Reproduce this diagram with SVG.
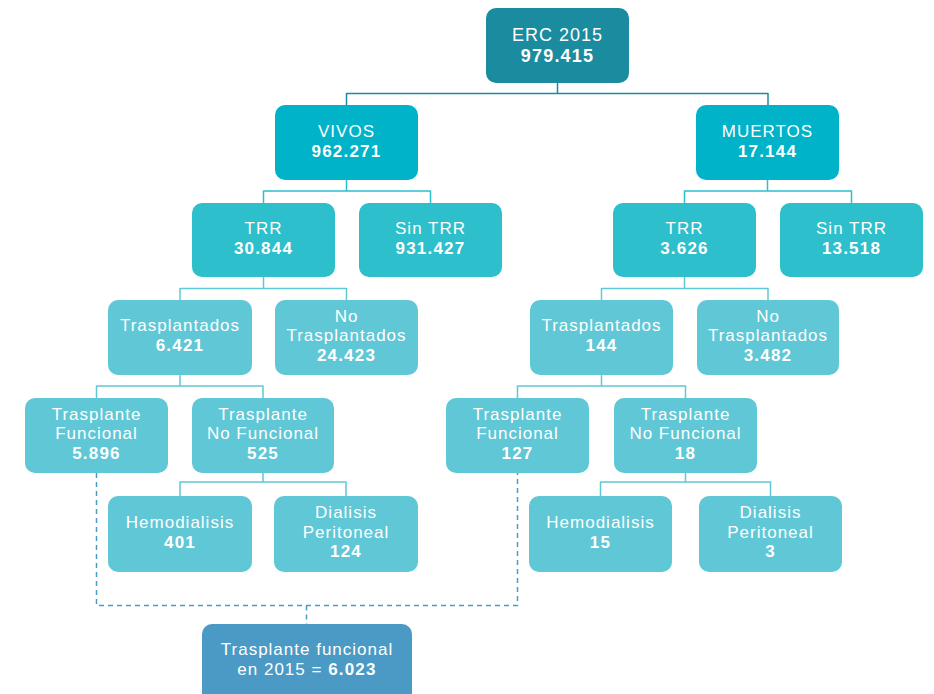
<svg xmlns="http://www.w3.org/2000/svg" width="934" height="694" viewBox="0 0 934 694">
<style>
text{font-family:"Liberation Sans",Arial,sans-serif;font-size:17px;fill:#ffffff;text-anchor:middle;letter-spacing:1px}
.b{font-weight:bold;letter-spacing:1.2px}
.t{font-size:18px}
.l0{fill:#1b8b9f}
.l1{fill:#00b3c8}
.l2{fill:#2dbfcb}
.l3{fill:#5fc7d5}
.l4{fill:#4a9ac5}
.c0{stroke:#1b8b9f;stroke-width:1.5;fill:none}
.c1{stroke:#2dbfcb;stroke-width:1.5;fill:none}
.c2{stroke:#5fc7d5;stroke-width:1.5;fill:none}
.d{stroke:#4a9ac5;stroke-width:1.5;fill:none;stroke-dasharray:5 4}
</style>
<rect width="934" height="694" fill="#ffffff"/>
<g id="connectors">
<path class="c0" d="M557.5 83V93.5M346.5 93.5H768M346.5 93V105M768 93V105"/>
<path class="c1" d="M346.5 180V191M263.5 191H430.5M263.5 190.5V203M430.5 190.5V203"/>
<path class="c1" d="M767.5 180V191M684.5 191H851.5M684.5 190.5V203M851.5 190.5V203"/>
<path class="c2" d="M263.5 277V288.5M180 288.5H346.5M180 288V300M346.5 288V300"/>
<path class="c2" d="M684.5 277V288.5M601.5 288.5H768M601.5 288V300M768 288V300"/>
<path class="c2" d="M180 375V386M96.5 386H263M96.5 385.5V398M263 385.5V398"/>
<path class="c2" d="M601.5 375V386M517.5 386H685.5M517.5 385.5V398M685.5 385.5V398"/>
<path class="c2" d="M263 473V482M180 482H346M180 481.5V496M346 481.5V496"/>
<path class="c2" d="M685.5 473V482M600.5 482H770.5M600.5 481.5V496M770.5 481.5V496"/>
<path class="d" d="M96.5 473V605.5H517.5V473M306.5 605.5V624"/>
</g>
<g id="erc"><rect class="l0" x="486" y="8" width="143" height="75" rx="10"/><text class="t" x="557.5" y="41">ERC 2015</text><text class="b t" x="557.5" y="62">979.415</text></g>
<g id="vivos"><rect class="l1" x="275" y="105" width="143" height="75" rx="10"/><text x="346.5" y="137">VIVOS</text><text class="b" x="346.5" y="157">962.271</text></g>
<g id="muertos"><rect class="l1" x="696" y="105" width="143" height="75" rx="10"/><text x="767.5" y="137">MUERTOS</text><text class="b" x="767.5" y="157">17.144</text></g>
<g id="trr-v"><rect class="l2" x="192" y="203" width="143" height="74" rx="10"/><text x="263.5" y="234">TRR</text><text class="b" x="263.5" y="253.5">30.844</text></g>
<g id="sintrr-v"><rect class="l2" x="359" y="203" width="143" height="74" rx="10"/><text x="430.5" y="234">Sin TRR</text><text class="b" x="430.5" y="253.5">931.427</text></g>
<g id="trr-m"><rect class="l2" x="613" y="203" width="143" height="74" rx="10"/><text x="684.5" y="234">TRR</text><text class="b" x="684.5" y="253.5">3.626</text></g>
<g id="sintrr-m"><rect class="l2" x="780" y="203" width="143" height="74" rx="10"/><text x="851.5" y="234">Sin TRR</text><text class="b" x="851.5" y="253.5">13.518</text></g>
<g id="trasp-v"><rect class="l3" x="108" y="300" width="144" height="75" rx="10"/><text x="180" y="331">Trasplantados</text><text class="b" x="180" y="350.5">6.421</text></g>
<g id="notrasp-v"><rect class="l3" x="275" y="300" width="143" height="75" rx="10"/><text x="346.5" y="321.5">No</text><text x="346.5" y="341">Trasplantados</text><text class="b" x="346.5" y="360.5">24.423</text></g>
<g id="trasp-m"><rect class="l3" x="530" y="300" width="143" height="75" rx="10"/><text x="601.5" y="331">Trasplantados</text><text class="b" x="601.5" y="350.5">144</text></g>
<g id="notrasp-m"><rect class="l3" x="697" y="300" width="142" height="75" rx="10"/><text x="768" y="321.5">No</text><text x="768" y="341">Trasplantados</text><text class="b" x="768" y="360.5">3.482</text></g>
<g id="tf-v"><rect class="l3" x="25" y="398" width="143" height="75" rx="10"/><text x="96.5" y="419.5">Trasplante</text><text x="96.5" y="439">Funcional</text><text class="b" x="96.5" y="458.5">5.896</text></g>
<g id="tnf-v"><rect class="l3" x="192" y="398" width="142" height="75" rx="10"/><text x="263" y="419.5">Trasplante</text><text x="263" y="439">No Funcional</text><text class="b" x="263" y="458.5">525</text></g>
<g id="tf-m"><rect class="l3" x="446" y="398" width="143" height="75" rx="10"/><text x="517.5" y="419.5">Trasplante</text><text x="517.5" y="439">Funcional</text><text class="b" x="517.5" y="458.5">127</text></g>
<g id="tnf-m"><rect class="l3" x="614" y="398" width="143" height="75" rx="10"/><text x="685.5" y="419.5">Trasplante</text><text x="685.5" y="439">No Funcional</text><text class="b" x="685.5" y="458.5">18</text></g>
<g id="hemo-v"><rect class="l3" x="108" y="496" width="144" height="76" rx="10"/><text x="180" y="528">Hemodialisis</text><text class="b" x="180" y="547.5">401</text></g>
<g id="dp-v"><rect class="l3" x="274" y="496" width="144" height="76" rx="10"/><text x="346" y="518">Dialisis</text><text x="346" y="537.5">Peritoneal</text><text class="b" x="346" y="557">124</text></g>
<g id="hemo-m"><rect class="l3" x="529" y="496" width="143" height="76" rx="10"/><text x="600.5" y="528">Hemodialisis</text><text class="b" x="600.5" y="547.5">15</text></g>
<g id="dp-m"><rect class="l3" x="699" y="496" width="143" height="76" rx="10"/><text x="770.5" y="518">Dialisis</text><text x="770.5" y="537.5">Peritoneal</text><text class="b" x="770.5" y="557">3</text></g>
<g id="total"><rect class="l4" x="202" y="624" width="210" height="86" rx="10"/><text x="307" y="655">Trasplante funcional</text><text x="307" y="674.5">en 2015 = <tspan class="b">6.023</tspan></text></g>
</svg>
